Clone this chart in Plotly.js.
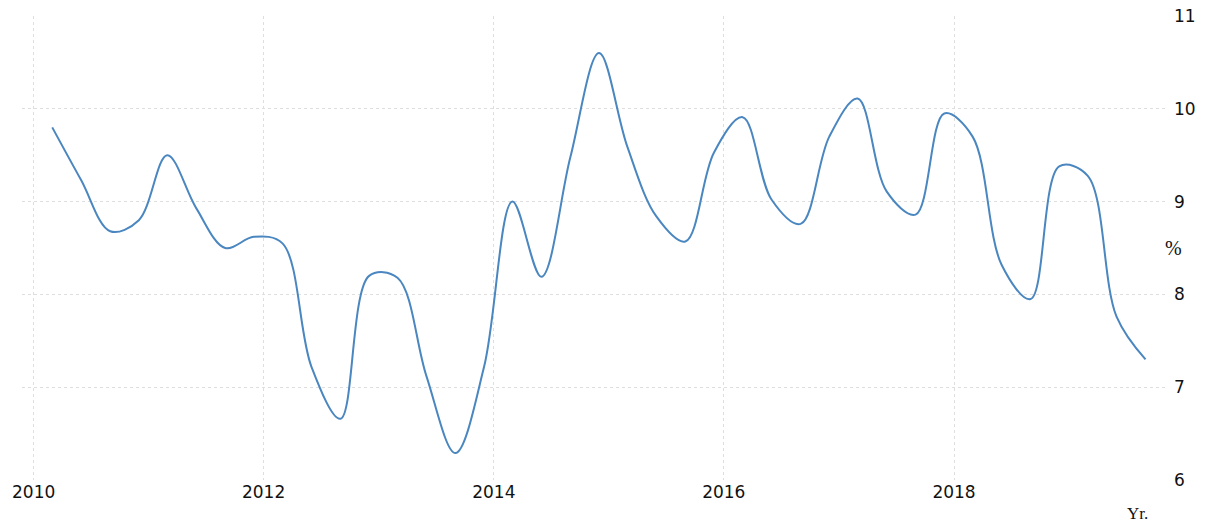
<!DOCTYPE html>
<html>
<head>
<meta charset="utf-8">
<script src="https://cdn.plot.ly/plotly-3.0.1.min.js"></script>
<style>html,body{margin:0;padding:0;background:#fff;}#chart{width:1208px;height:524px;}</style>
</head>
<body>
<div id="chart"></div>
<script>
const dates = [
  '2010-03-01','2010-06-01','2010-09-01','2010-12-01',
  '2011-03-01','2011-06-01','2011-09-01','2011-12-01',
  '2012-03-01','2012-06-01','2012-09-01','2012-12-01',
  '2013-03-01','2013-06-01','2013-09-01','2013-12-01',
  '2014-03-01','2014-06-01','2014-09-01','2014-12-01',
  '2015-03-01','2015-06-01','2015-09-01','2015-12-01',
  '2016-03-01','2016-06-01','2016-09-01','2016-12-01',
  '2017-03-01','2017-06-01','2017-09-01','2017-12-01',
  '2018-03-01','2018-06-01','2018-09-01','2018-12-01',
  '2019-03-01','2019-06-01','2019-09-01'
];
const values = [
  9.80, 9.23, 8.68, 8.80,
  9.50, 8.93, 8.50, 8.62,
  8.55, 7.22, 6.66, 8.20,
  8.18, 7.12, 6.29, 7.22,
  9.00, 8.19, 9.48, 10.60,
  9.59, 8.84, 8.57, 9.53,
  9.91, 9.02, 8.76, 9.70,
  10.11, 9.11, 8.86, 9.95,
  9.70, 8.32, 7.95, 9.38,
  9.28, 7.76, 7.30
];
const yTicks = [6, 7, 8, 9, 10, 11];
const xTickVals = ['2010-01-01','2012-01-01','2014-01-01','2016-01-01','2018-01-01'];
const xTickText = ['2010','2012','2014','2016','2018'];

const trace = {
  x: dates, y: values, type: 'scatter', mode: 'lines',
  line: {color: '#4a86bf', width: 2, shape: 'spline', smoothing: 1},
  hoverinfo: 'x+y'
};

const layout = {
  width: 1208, height: 524,
  margin: {l: 22, r: 42, t: 16, b: 44},
  paper_bgcolor: '#ffffff', plot_bgcolor: '#ffffff',
  showlegend: false,
  font: {family: 'DejaVu Sans, sans-serif', size: 17, color: '#111'},
  xaxis: {
    type: 'date',
    range: ['2009-11-25', '2019-11-05'],
    tickvals: xTickVals, ticktext: xTickText,
    showgrid: true, gridcolor: '#dedede', griddash: 'dot', gridwidth: 1,
    zeroline: false, showline: false, ticks: '',
    tickfont: {family: 'DejaVu Sans, sans-serif', size: 17, color: '#111'}
  },
  yaxis: {
    side: 'right', range: [6, 11],
    tickvals: yTicks, ticktext: yTicks.map(String),
    showgrid: true, gridcolor: '#dedede', griddash: 'dot', gridwidth: 1,
    zeroline: false, showline: false, ticks: '',
    ticklabelstandoff: 7,
    tickfont: {family: 'DejaVu Sans, sans-serif', size: 17, color: '#111'}
  },
  annotations: [
    {text: '%', xref: 'paper', yref: 'y', x: 1.0, y: 8.5, xanchor: 'left', yanchor: 'middle',
     xshift: -3, showarrow: false, font: {family: 'Liberation Serif, serif', size: 20, color: '#111'}},
    {text: 'Yr.', xref: 'paper', yref: 'paper', x: 0.975, y: 0, xanchor: 'center', yanchor: 'top',
     yshift: -22, showarrow: false, font: {family: 'Liberation Serif, serif', size: 17, color: '#111'}}
  ]
};

Plotly.newPlot('chart', [trace], layout, {displayModeBar: false, staticPlot: true});
</script>
</body>
</html>
